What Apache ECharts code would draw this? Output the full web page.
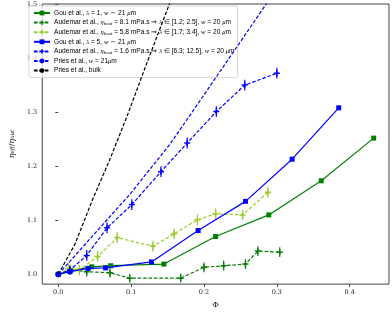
<!DOCTYPE html>
<html><head><meta charset="utf-8">
<script src="https://cdn.jsdelivr.net/npm/echarts@6/dist/echarts.min.js"></script>
<style>html,body{margin:0;padding:0;background:#fff}#c{width:392px;height:314px}</style>
</head><body><div id="c"></div>
<script>
// ---- data ----
const gou1Phi = [0, 0.017, 0.046, 0.072, 0.145, 0.216, 0.289, 0.361, 0.433];
const gou1Eta = [1.0, 1.007, 1.014, 1.016, 1.019, 1.070, 1.110, 1.173, 1.252];

const aud81Phi = [0, 0.016, 0.039, 0.071, 0.098, 0.168, 0.200, 0.227, 0.257, 0.274, 0.304];
const aud81Eta = [1.0, 1.008, 1.005, 1.003, 0.993, 0.993, 1.013, 1.016, 1.019, 1.043, 1.041];
const aud81Err = [0, 0.009, 0.009, 0.009, 0.008, 0.008, 0.009, 0.009, 0.009, 0.009, 0.009];

const aud58Phi = [0, 0.014, 0.029, 0.054, 0.081, 0.130, 0.159, 0.191, 0.216, 0.253, 0.288];
const aud58Eta = [1.0, 1.011, 1.008, 1.033, 1.068, 1.052, 1.075, 1.101, 1.112, 1.110, 1.152];
const aud58Err = [0, 0.01, 0.01, 0.01, 0.01, 0.01, 0.01, 0.01, 0.01, 0.01, 0.01];

const gou5Phi = [0, 0.016, 0.041, 0.065, 0.128, 0.192, 0.257, 0.321, 0.385];
const gou5Eta = [1.0, 1.005, 1.011, 1.012, 1.023, 1.081, 1.135, 1.213, 1.308];

const aud16Phi = [0, 0.016, 0.039, 0.067, 0.101, 0.141, 0.177, 0.217, 0.256, 0.300];
const aud16Eta = [1.0, 1.008, 1.035, 1.086, 1.129, 1.190, 1.243, 1.301, 1.350, 1.372];
const aud16Err = [0, 0.008, 0.01, 0.01, 0.01, 0.01, 0.01, 0.01, 0.01, 0.01];

const priesWPhi = [0, 0.067, 0.097, 0.153, 0.196, 0.286, 0.31];
const priesWEta = [1.0, 1.101, 1.146, 1.240, 1.324, 1.501, 1.55];

const priesBulkPhi = [0, 0.023, 0.047, 0.070, 0.094, 0.120, 0.152, 0.16];
const priesBulkEta = [1.0, 1.056, 1.138, 1.210, 1.291, 1.385, 1.498, 1.53];

const xTicks = [0.0, 0.1, 0.2, 0.3, 0.4];
const yTicks = [1.0, 1.1, 1.2, 1.3, 1.4, 1.5];

const names = ['gou1', 'aud81', 'aud58', 'gou5', 'aud16', 'priesW', 'priesBulk'];
const labels = {
  gou1: 'Gou et al., {m|λ} = 1, {m|w} ∼ 21 {m|μ}m',
  aud81: 'Audemar et al., {m|η}{s|bout} = 8.1 mPa.s ⇒ {m|λ} ∈ [1.2; 2.5], {m|w} = 20 {m|μ}m',
  aud58: 'Audemar et al., {m|η}{s|bout} = 5.8 mPa.s ⇒ {m|λ} ∈ [1.7; 3.4], {m|w} = 20 {m|μ}m',
  gou5: 'Gou et al., {m|λ} = 5, {m|w} ∼ 21 {m|μ}m',
  aud16: 'Audemar et al., {m|η}{s|bout} = 1.6 mPa.s ⇒ {m|λ} ∈ [6.3; 12.5], {m|w} = 20 {m|μ}m',
  priesW: 'Pries et al., {m|w} = 21{m|μ}m',
  priesBulk: 'Pries et al., bulk'
};

const zip = (a, b) => a.map((v, i) => [v, b[i]]);
const zip3 = (a, b, c) => a.map((v, i) => [v, b[i], c[i]]).filter(d => d[2] > 0);

const GREEN = '#008000', DGREEN = '#0a7d0a', YG = '#9acd32', BLUE = '#0000ff', BLACK = '#000000';
const DASH = [3.6, 1.8];
const PLUS = 'path://M-1,-4H1V-1H4V1H1V4H-1V1H-4V-1H-1Z';

function lineSeries(name, data, color, dashed, symbol, size, z) {
  return {
    name, type: 'line', data, z,
    symbol: symbol || 'none', symbolSize: size || 0, showSymbol: !!symbol,
    lineStyle: { color, width: 1.2, type: dashed ? DASH : 'solid' },
    itemStyle: { color },
    emphasis: { disabled: true }, animation: false, clip: true
  };
}
function errSeries(name, data, color, z) {
  return {
    name, type: 'custom', data, z, animation: false, clip: true,
    renderItem: function (params, api) {
      const x = api.value(0), y = api.value(1), e = api.value(2);
      const p1 = api.coord([x, y - e]), p2 = api.coord([x, y + e]);
      return { type: 'line', shape: { x1: p1[0], y1: p1[1], x2: p2[0], y2: p2[1] },
        style: { stroke: color, lineWidth: 1.2 } };
    },
    encode: { x: 0, y: 1 }
  };
}

const chart = echarts.init(document.getElementById('c'), null, { renderer: 'canvas' });
chart.setOption({
  animation: false,
  backgroundColor: '#fff',
  grid: { left: 27, right: 3, top: 4, bottom: 23, show: true, borderColor: '#444', borderWidth: 1 },
  xAxis: {
    type: 'value', min: -0.022, max: 0.454,
    name: 'Φ', nameLocation: 'middle', nameGap: 16,
    nameTextStyle: { fontFamily: 'DejaVu Serif', fontSize: 8, color: '#111' },
    axisLine: { show: false },
    axisTick: { show: true, length: 3, lineStyle: { color: '#444' }, customValues: xTicks },
    axisLabel: { fontFamily: 'DejaVu Serif', fontSize: 6.5, color: '#222', margin: 5,
      customValues: xTicks, formatter: v => v.toFixed(1) },
    splitLine: { show: false }
  },
  yAxis: {
    type: 'value', min: 0.982, max: 1.5,
    name: '{m|η}{s|eff}{n|/}{m|η}{s|out}', nameLocation: 'middle', nameGap: 17,
    nameTextStyle: { fontFamily: 'DejaVu Serif', fontSize: 8, color: '#111',
      rich: { m: { fontFamily: 'DejaVu Serif', fontStyle: 'italic', fontSize: 8 },
              n: { fontFamily: 'DejaVu Serif', fontSize: 8 },
              s: { fontFamily: 'DejaVu Serif', fontStyle: 'italic', fontSize: 5.5, verticalAlign: 'bottom' } } },
    axisLine: { show: false },
    axisTick: { show: true, length: 3, lineStyle: { color: '#444' }, customValues: yTicks },
    axisLabel: { fontFamily: 'DejaVu Serif', fontSize: 6.5, color: '#222', margin: 5,
      customValues: yTicks, formatter: v => v.toFixed(1) },
    splitLine: { show: false }
  },
  legend: {
    orient: 'vertical', left: 29, top: 6,
    data: names,
    itemWidth: 16, itemHeight: 6, itemGap: 1.6,
    padding: [3, 3, 3, 4],
    backgroundColor: 'rgba(255,255,255,0.8)', borderColor: '#cccccc', borderWidth: 0.8, borderRadius: 2,
    selectedMode: false,
    formatter: name => labels[name],
    textStyle: { fontFamily: 'Liberation Sans', fontSize: 6.6, color: '#000', lineHeight: 8, padding: [0, 0, 0, -1],
      rich: { m: { fontFamily: 'Liberation Serif', fontStyle: 'italic', fontSize: 6.6 },
              s: { fontFamily: 'Liberation Serif', fontStyle: 'italic', fontSize: 4.8, verticalAlign: 'bottom' } } }
  },
  series: [
    lineSeries('gou1', zip(gou1Phi, gou1Eta), GREEN, false, 'rect', 5, 2),
    lineSeries('aud81', zip(aud81Phi, aud81Eta), DGREEN, true, PLUS, 6, 3),
    errSeries('aud81', zip3(aud81Phi, aud81Eta, aud81Err), DGREEN, 3),
    lineSeries('aud58', zip(aud58Phi, aud58Eta), YG, true, PLUS, 6, 4),
    errSeries('aud58', zip3(aud58Phi, aud58Eta, aud58Err), YG, 4),
    lineSeries('gou5', zip(gou5Phi, gou5Eta), BLUE, false, 'rect', 5, 5),
    lineSeries('aud16', zip(aud16Phi, aud16Eta), BLUE, true, PLUS, 6, 6),
    errSeries('aud16', zip3(aud16Phi, aud16Eta, aud16Err), BLUE, 6),
    lineSeries('priesW', zip(priesWPhi, priesWEta), BLUE, true, null, 0, 7),
    lineSeries('priesBulk', zip(priesBulkPhi, priesBulkEta), BLACK, true, null, 0, 8)
  ]
});
</script>
</body></html>
